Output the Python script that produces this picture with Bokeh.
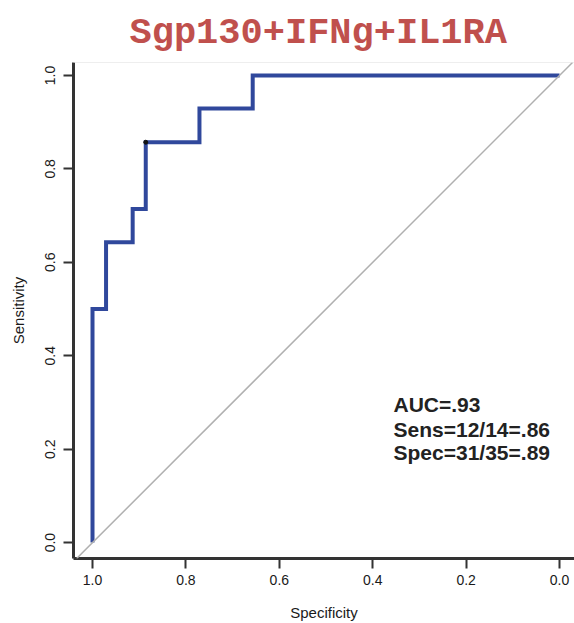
from bokeh.plotting import figure
from bokeh.models import Range1d, FixedTicker, NumeralTickFormatter, Label, Slope, Span
from bokeh.embed import file_html
from bokeh.resources import INLINE

# ROC curve vertices (specificity, sensitivity)
specificity = [1.0, 1.0, 0.971, 0.971, 0.914, 0.914, 0.886, 0.886, 0.771, 0.771, 0.657, 0.657, 0.0]
sensitivity = [0.0, 0.5, 0.5, 0.643, 0.643, 0.714, 0.714, 0.857, 0.857, 0.929, 0.929, 1.0, 1.0]
best_spec = [0.886]
best_sens = [0.857]
ticks = [0.0, 0.2, 0.4, 0.6, 0.8, 1.0]
title_text = "Sgp130+IFNg+IL1RA"
stats_lines = ["AUC=.93", "Sens=12/14=.86", "Spec=31/35=.89"]

X0, X1 = 1.0407, -0.032
Y0, Y1 = -0.034, 1.0277

p = figure(width=574, height=623, output_backend="svg", toolbar_location=None,
           x_range=Range1d(X0, X1), y_range=Range1d(Y0, Y1),
           min_border_left=73, min_border_right=0, min_border_top=62, min_border_bottom=63)
p.outline_line_color = None
p.xgrid.visible = False
p.ygrid.visible = False
p.background_fill_color = "white"

p.title.text = title_text
p.title.align = "left"
p.title.text_font = "Liberation Mono"
p.title.text_font_style = "bold"
p.title.text_font_size = "37px"
p.title.text_color = "#c0504d"
p.title.standoff = 18
p.title.offset = 56

for ax in (p.xaxis[0], p.yaxis[0]):
    ax.ticker = FixedTicker(ticks=ticks)
    ax.formatter = NumeralTickFormatter(format="0.0")
    ax.axis_line_width = 3
    ax.axis_line_color = "#333333"
    ax.major_tick_line_width = 2
    ax.major_tick_line_color = "#333333"
    ax.major_tick_out = 10
    ax.major_tick_in = 0
    ax.minor_tick_line_color = None
    ax.major_label_text_font = "Liberation Sans"
    ax.major_label_text_font_size = "14px"
    ax.major_label_text_color = "#1a1a1a"
    ax.axis_label_text_font = "Liberation Sans"
    ax.axis_label_text_font_size = "15px"
    ax.axis_label_text_font_style = "normal"
    ax.axis_label_text_color = "#1a1a1a"

p.xaxis.axis_label = "Specificity"
p.yaxis.axis_label = "Sensitivity"
p.xaxis.major_label_standoff = 6
p.yaxis.major_label_standoff = 8
p.yaxis.major_label_orientation = "vertical"
p.xaxis.axis_label_standoff = 16
p.yaxis.axis_label_standoff = 16

p.add_layout(Span(location=Y1, dimension="width", line_color="#dddddd", line_width=1))
p.add_layout(Slope(gradient=-1, y_intercept=1, line_color="#b0b0b0", line_width=1.5))

p.line(specificity, sensitivity, line_color="#30489c", line_width=4, line_join="miter")
p.scatter(best_spec, best_sens, size=4, color="#111111")

stat_y = [0.296, 0.243, 0.192]
for t, yy in zip(stats_lines, stat_y):
    p.add_layout(Label(x=0.3555, y=yy, text=t, text_align="left", text_baseline="middle",
                       text_font="Liberation Sans", text_font_style="bold",
                       text_font_size="21px", text_color="#222222"))

open("out.html", "w").write(file_html(p, INLINE))
